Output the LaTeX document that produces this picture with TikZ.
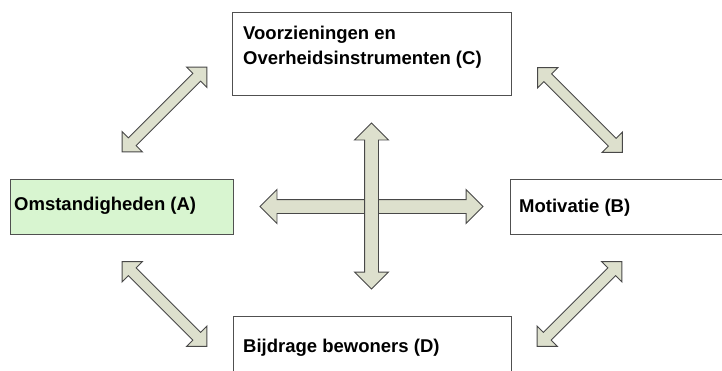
\documentclass[tikz,border=0pt]{standalone}
\usepackage{fontspec}
\setmainfont{Liberation Sans}
\usetikzlibrary{shapes.arrows}
\definecolor{boxline}{RGB}{80,80,80}
\definecolor{boxgreen}{RGB}{216,245,208}
\definecolor{arrfill}{RGB}{221,224,205}
\definecolor{arrline}{RGB}{72,72,72}
\tikzset{
	box/.style={draw=boxline, line width=1.2pt, rectangle, anchor=north west, inner sep=0pt},
	lbl/.style={anchor=base west, inner sep=0pt, align=left, font=\fontsize{18.5}{25}\selectfont\bfseries},
	dblarr/.style 2 args={double arrow, draw=arrline, fill=arrfill, line width=0.9pt,
		minimum width=0pt, inner sep=#1, double arrow head extend=#2}
}
\begin{document}
\begin{tikzpicture}[x=1pt, y=-1pt]
		\useasboundingbox (0, 0) rectangle (722, 370);
		%boxes
		\node[box, minimum width=279pt, minimum height=83pt] (C) at (232, 12) {};
		\node[box, fill=boxgreen, minimum width=223pt, minimum height=55pt] (A) at (10, 179) {};
		\node[box, minimum width=300pt, minimum height=55pt] (B) at (510, 179) {};
		\node[box, minimum width=278pt, minimum height=70pt] (D) at (233, 316) {};
		\node[lbl] (Ctext) at (243, 64) {Voorzieningen en\\Overheidsinstrumenten (C)};
		\node[lbl] (Atext) at (14, 210) {Omstandigheden (A)};
		\node[lbl] (Btext) at (519, 212) {Motivatie (B)};
		\node[lbl] (Dtext) at (243, 352) {Bijdrage bewoners (D)};
		%diagonal arrows
		\foreach \x/\y/\r/\n in {164.5/109.5/45/AC, 580/110/-45/CB, 164.5/304/-45/AD, 579.5/304/45/DB}{
			\node[dblarr={5pt}{9pt}, minimum height=120pt, rotate=\r] (arr\n) at (\x, \y) {};
		}
		%cross
		\node[dblarr={6.5pt}{10pt}, minimum height=223pt] (arrAB) at (371.5, 206.5) {};
		\node[dblarr={6.5pt}{10pt}, minimum height=166pt, rotate=90] (arrCD) at (371.5, 206) {};
\end{tikzpicture}
\end{document}
